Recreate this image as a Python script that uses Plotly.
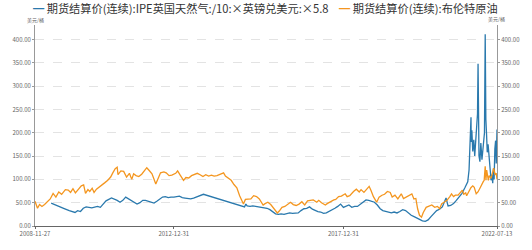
import plotly.graph_objects as go

# ---- data ----
gas_dates = ["2009-05-20","2009-07-01","2009-08-01","2009-10-01","2009-12-01","2010-02-01","2010-03-01","2010-04-01",
"2010-05-01","2010-06-01","2010-08-01","2010-10-01","2010-11-01","2010-12-01","2011-01-01","2011-03-01","2011-04-01",
"2011-05-01","2011-06-01","2011-07-01","2011-08-01","2011-09-01","2011-10-01","2011-12-01","2012-01-01","2012-02-01",
"2012-03-01","2012-04-01","2012-05-01","2012-06-01","2012-07-01","2012-08-01","2012-09-01","2012-10-01","2012-11-01",
"2012-12-01","2013-01-01","2013-03-01","2013-04-01","2013-05-01","2013-06-01","2013-07-01","2013-08-01","2013-09-01",
"2013-10-01","2013-11-15","2015-02-01","2015-02-15","2015-03-01","2015-04-01","2015-05-01","2015-06-01","2015-07-01",
"2015-08-01","2015-09-01","2015-10-01","2015-11-01","2015-12-01","2016-01-01","2016-02-01","2016-03-01","2016-04-01",
"2016-05-01","2016-06-01","2016-07-01","2016-08-01","2016-09-01","2016-10-01","2016-11-01","2016-12-01","2017-01-01",
"2017-02-01","2017-03-01","2017-04-01","2017-05-01","2017-06-01","2017-07-01","2017-08-01","2017-09-01","2017-10-01",
"2017-11-01","2017-12-01","2018-01-01","2018-02-01","2018-03-01","2018-04-01","2018-05-01","2018-06-01","2018-07-01",
"2018-08-01","2018-09-01","2018-10-01","2018-11-01","2018-12-01","2019-01-01","2019-02-01","2019-03-01","2019-04-01",
"2019-05-01","2019-06-01","2019-07-01","2019-08-01","2019-09-01","2019-10-01","2019-11-01","2019-12-01","2020-01-01",
"2020-02-01","2020-03-01","2020-04-01","2020-05-01","2020-06-01","2020-07-01","2020-08-01","2020-09-01","2020-10-01",
"2020-11-01","2020-12-01","2021-01-10","2021-02-01","2021-03-01","2021-04-01","2021-05-01","2021-06-01","2021-07-01",
"2021-08-01","2021-09-01","2021-09-15","2021-09-25","2021-10-06","2021-10-08","2021-10-15","2021-10-25","2021-11-05",
"2021-11-15","2021-11-25","2021-12-05","2021-12-15","2021-12-21","2021-12-24","2021-12-31","2022-01-10","2022-01-20",
"2022-02-01","2022-02-10","2022-02-20","2022-02-28","2022-03-08","2022-03-10","2022-03-15","2022-03-22","2022-03-30",
"2022-04-08","2022-04-20","2022-05-01","2022-05-10","2022-05-20","2022-05-28","2022-06-05","2022-06-12","2022-06-20",
"2022-06-28","2022-07-05","2022-07-13"]
gas_values = [49,46,43,38,33,29,33,31,38,41,39,42,40,48,54,60,58,55,51,55,62,58,55,47,50,55,55,53,52,49,53,58,62,63,61,
62,62,64,61,60,59,58,60,62,65,68,41,47,43,42,43,42,42,41,40,38,35,30,26,25,26,25,26,28,27,27,28,33,37,38,41,36,33,31,
30,27,28,31,35,38,42,47,40,42,45,40,42,42,47,52,56,55,53,51,45,37,33,31,30,28,30,28,31,35,33,28,23,20,17,15,11,10,13,
20,26,33,36,41,60,43,44,48,55,63,70,82,95,120,160,233,180,205,160,185,150,190,200,240,348,260,150,138,178,142,165,178,
200,411,230,229,199,158,175,140,118,98,110,92,124,100,165,183,134,207]

brent_dates = ["2008-11-27","2008-12-10","2008-12-24","2009-01-15","2009-02-10","2009-03-10","2009-04-10","2009-05-10",
"2009-06-10","2009-07-10","2009-08-10","2009-09-10","2009-10-20","2009-11-20","2009-12-15","2010-01-10","2010-02-05",
"2010-03-10","2010-04-10","2010-05-05","2010-05-25","2010-06-20","2010-07-10","2010-08-05","2010-08-25","2010-09-20",
"2010-10-20","2010-11-15","2010-12-20","2011-01-20","2011-02-20","2011-03-15","2011-04-10","2011-05-01","2011-05-10",
"2011-06-10","2011-07-10","2011-08-10","2011-09-10","2011-10-05","2011-10-25","2011-11-20","2011-12-20","2012-01-20",
"2012-02-20","2012-03-15","2012-04-10","2012-05-10","2012-06-20","2012-07-10","2012-08-10","2012-09-15","2012-10-10",
"2012-11-10","2012-12-10","2013-01-20","2013-02-10","2013-03-10","2013-04-15","2013-05-10","2013-06-10","2013-07-10",
"2013-08-20","2013-09-10","2013-10-10","2013-11-10","2013-12-10","2014-01-10","2014-02-10","2014-03-10","2014-04-10",
"2014-05-10","2014-06-20","2014-07-10","2014-08-10","2014-09-10","2014-10-10","2014-11-10","2014-12-10","2015-01-10",
"2015-01-20","2015-02-10","2015-03-10","2015-04-10","2015-05-10","2015-06-10","2015-07-10","2015-08-20","2015-09-10",
"2015-10-10","2015-11-10","2015-12-10","2016-01-20","2016-02-10","2016-03-10","2016-04-10","2016-05-10","2016-06-10",
"2016-07-10","2016-08-10","2016-09-10","2016-10-10","2016-11-10","2016-12-10","2017-01-10","2017-02-10","2017-03-20",
"2017-04-10","2017-05-10","2017-06-20","2017-07-10","2017-08-10","2017-09-20","2017-10-10","2017-11-10","2017-12-10",
"2018-01-20","2018-02-10","2018-03-10","2018-04-20","2018-05-20","2018-06-20","2018-07-10","2018-08-10","2018-09-10",
"2018-10-05","2018-10-25","2018-11-20","2018-12-25","2019-01-20","2019-02-20","2019-03-20","2019-04-20","2019-05-20",
"2019-06-10","2019-07-10","2019-08-10","2019-09-16","2019-10-10","2019-11-10","2019-12-20","2020-01-08","2020-01-30",
"2020-02-20","2020-03-10","2020-03-30","2020-04-21","2020-05-10","2020-06-10","2020-07-10","2020-08-10","2020-09-10",
"2020-10-10","2020-11-02","2020-11-25","2020-12-20","2021-01-20","2021-02-20","2021-03-10","2021-04-01","2021-04-20",
"2021-05-20","2021-06-20","2021-07-05","2021-07-20","2021-08-10","2021-08-20","2021-09-10","2021-10-05","2021-10-25",
"2021-11-10","2021-12-01","2021-12-20","2022-01-10","2022-01-25","2022-02-15","2022-02-25","2022-03-08","2022-03-16",
"2022-03-24","2022-04-11","2022-04-20","2022-05-10","2022-05-20","2022-06-08","2022-06-22","2022-07-05","2022-07-13"]
brent_values = [53,45,38,46,42,46,52,58,70,62,73,68,78,77,72,80,71,80,86,88,70,78,74,81,72,79,83,87,93,98,105,114,123,126,
110,118,117,105,113,100,112,108,106,111,120,125,119,112,90,100,114,116,114,108,109,113,118,109,98,104,103,108,112,113,
110,106,110,107,109,107,108,110,114,107,103,98,89,82,65,50,47,57,57,58,65,63,58,45,48,51,46,39,28,32,40,42,46,51,46,44,
47,52,45,54,55,56,51,55,50,45,48,52,56,57,63,64,69,63,65,74,79,73,78,72,78,85,76,63,51,62,66,68,74,72,62,66,58,69,59,
62,66,69,58,59,37,23,19,29,40,43,45,40,42,37,48,51,55,63,69,63,66,66,73,77,68,71,65,73,82,86,83,69,73,81,88,95,98,128,
98,120,98,108,102,112,124,110,113,100]

tick_vals = ["2008-11-27", "2012-12-31", "2017-12-31", "2022-07-13"]
tick_text = ["2008-11-27", "2012-12-31", "2017-12-31", "2022-07-13"]
y_ticks = [0, 50, 100, 150, 200, 250, 300, 350, 400]

name_gas = "期货结算价(连续):IPE英国天然气:/10:×英镑兑美元:×5.8"
name_brent = "期货结算价(连续):布伦特原油"
unit = "美元/桶"

BLUE = "#2a79ad"
ORANGE = "#f4961f"
FONT = "Noto Sans CJK SC"

L, R, T, B = 26, 23, 25, 12
W, H = 532, 250
plot_w = W - L - R
plot_h = H - T - B


def px(x):
    return (x - L) / plot_w


def py(y):
    return (H - B - y) / plot_h


fig = go.Figure()
fig.add_trace(go.Scatter(x=gas_dates, y=gas_values, mode="lines", name=name_gas,
                         line=dict(color=BLUE, width=1.3), yaxis="y"))
fig.add_trace(go.Scatter(x=brent_dates, y=brent_values, mode="lines", name=name_brent,
                         line=dict(color=ORANGE, width=1.3), yaxis="y2"))

yrange = [0, 431]
axis_common = dict(range=yrange, tickvals=y_ticks, ticktext=[f"{v:.2f}" for v in y_ticks],
                   tickfont=dict(size=6, color="#666", family=FONT), showline=True, linecolor="#999",
                   linewidth=1, ticks="outside", ticklen=2, tickcolor="#999", zeroline=False)

fig.update_layout(
    width=W, height=H,
    margin=dict(l=L, r=R, t=T, b=B),
    paper_bgcolor="white", plot_bgcolor="white",
    showlegend=False,
    font=dict(family=FONT),
    xaxis=dict(type="date", range=["2008-11-27", "2022-07-13"], tickvals=tick_vals, ticktext=tick_text,
               tickfont=dict(size=6, color="#666", family=FONT), showline=True, linecolor="#666",
               linewidth=1, ticks="outside", ticklen=2, tickcolor="#666", showgrid=False, zeroline=False),
    yaxis=dict(**axis_common, side="left", showgrid=True, gridcolor="#e3e3e3", griddash="dash", gridwidth=1),
    yaxis2=dict(**axis_common, side="right", overlaying="y", showgrid=False),
    annotations=[
        dict(text=f'<span style="color:{BLUE}">━</span> {name_gas}', x=px(23), y=py(6.5),
             xref="paper", yref="paper", xanchor="left", yanchor="middle", showarrow=False, borderpad=0,
             font=dict(size=11.2, color="#333", family=FONT)),
        dict(text=f'<span style="color:{ORANGE}">━</span> {name_brent}', x=px(343), y=py(6.5),
             xref="paper", yref="paper", xanchor="left", yanchor="middle", showarrow=False, borderpad=0,
             font=dict(size=11.2, color="#333", family=FONT)),
        dict(text=unit, x=px(17), y=py(19.5), xref="paper", yref="paper", xanchor="left", yanchor="middle",
             showarrow=False, borderpad=0, font=dict(size=5, color="#666", family=FONT)),
        dict(text=unit, x=px(499), y=py(19), xref="paper", yref="paper", xanchor="left", yanchor="middle",
             showarrow=False, borderpad=0, font=dict(size=5, color="#666", family=FONT)),
    ],
)

fig.write_html("out.html")
